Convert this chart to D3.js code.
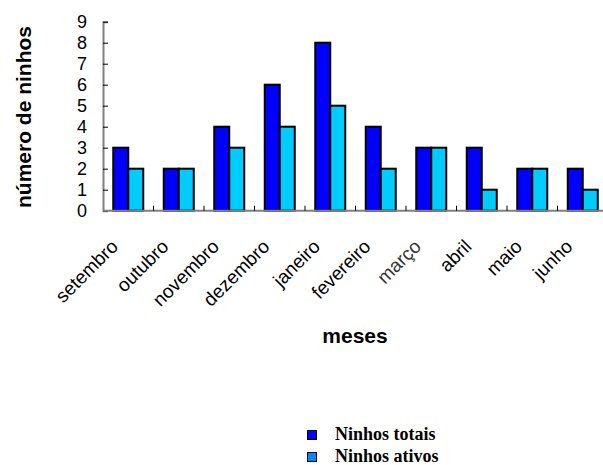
<!DOCTYPE html>
<html><head><meta charset="utf-8">
<script src="https://cdn.jsdelivr.net/npm/d3@7"></script>
<style>body{margin:0;background:#fff}svg{display:block}</style>
</head><body>
<svg id="c" width="603" height="465"></svg>
<script>
const categories = ["setembro","outubro","novembro","dezembro","janeiro","fevereiro","março","abril","maio","junho"];
const totais = [3,2,4,6,8,4,3,3,2,2];
const ativos = [2,2,3,4,5,2,3,1,2,1];
const seriesNames = ["Ninhos totais","Ninhos ativos"];
const yTicks = [0,1,2,3,4,5,6,7,8,9];

(function(){
const svg = d3.select("#c");
const SANS = "'Liberation Sans', Arial, sans-serif";
const SERIF = "'Liberation Serif', 'Times New Roman', serif";
const mLeft = 103, mRight = 608, mTop = 21.7, mBottom = 210.7;
const x = d3.scaleBand().domain(categories).range([mLeft, mRight]);
const y = d3.scaleLinear().domain([0, 9]).range([mBottom, mTop]);
const sub = d3.scaleBand().domain([0,1]).range([0, 30]);
const colors = ["#0000FF", "#00CCFF"];

// bars
[totais, ativos].forEach((vals, si) => {
  svg.append("g").selectAll("rect").data(vals).join("rect")
    .attr("x", (d,i) => x(categories[i]) + (x.bandwidth()-30)/2 + sub(si))
    .attr("y", d => y(d))
    .attr("width", sub.bandwidth())
    .attr("height", d => y(0) - y(d))
    .attr("fill", colors[si])
    .attr("stroke", "#000").attr("stroke-width", 2);
});

// y axis
const ya = svg.append("g").attr("transform", `translate(${mLeft},0)`)
  .call(d3.axisRight(y).tickValues(yTicks).tickSize(5).tickFormat(d3.format("d")));
ya.select(".domain").attr("stroke", "#808080").attr("stroke-width", 2);
ya.selectAll(".tick line").attr("stroke", "#000");
ya.selectAll(".tick text").attr("x", -16).attr("text-anchor", "end")
  .attr("font-family", SANS).attr("font-size", 18).attr("fill", "#000");

// x axis
const xa = svg.append("g").attr("transform", `translate(0,${mBottom})`);
xa.append("line").attr("x1", mLeft).attr("x2", mRight).attr("stroke", "#808080").attr("stroke-width", 2);
xa.selectAll("line.t").data(categories.slice(1)).join("line").attr("class","t")
  .attr("x1", d => x(d)).attr("x2", d => x(d)).attr("y1", 0).attr("y2", -5)
  .attr("stroke", "#000");
xa.selectAll("text").data(categories).join("text")
  .attr("transform", d => `translate(${x(d) + x.bandwidth()/2 - 9},${37}) rotate(-45)`)
  .attr("text-anchor", "end")
  .attr("font-family", SANS).attr("font-size", 19)
  .attr("fill", d => d === "março" ? "#333" : "#000")
  .text(d => d);

// titles
svg.append("text").attr("transform", `translate(31,117) rotate(-90)`)
  .attr("text-anchor", "middle").attr("font-family", SANS)
  .attr("font-weight", "bold").attr("font-size", 21).text("número de ninhos");
svg.append("text").attr("x", 355).attr("y", 343).attr("text-anchor", "middle")
  .attr("font-family", SANS)
  .attr("font-weight", "bold").attr("font-size", 21).text("meses");

// legend
const legColors = ["#0000FF", "#0088FF"];
const lg = svg.append("g");
seriesNames.forEach((n, i) => {
  lg.append("rect").attr("x", 307.5).attr("y", 430.5 + i*22).attr("width", 9).attr("height", 9)
    .attr("fill", legColors[i]).attr("stroke", "#000").attr("stroke-width", 1);
  lg.append("text").attr("x", 335).attr("y", 440 + i*22)
    .attr("font-family", SERIF).attr("font-weight", "bold")
    .attr("font-size", 18).text(n);
});
})();
</script>
</body></html>
